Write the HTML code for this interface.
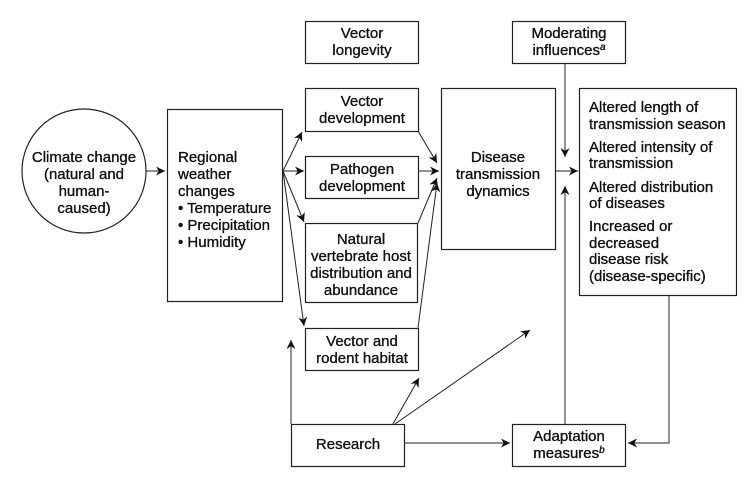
<!DOCTYPE html>
<html><head><meta charset="utf-8"><style>
html,body{margin:0;padding:0;background:#fff;}
svg{display:block;}
text{font-family:"Liberation Sans Narrow","Liberation Sans",sans-serif;font-size:15px;fill:#111;stroke:#111;stroke-width:0.35;}
.c{text-anchor:middle;}
</style></head><body>
<svg width="750" height="479" viewBox="0 0 750 479" xmlns="http://www.w3.org/2000/svg">
<defs><marker id="a" viewBox="0 0 10 10" refX="10" refY="5" markerWidth="9" markerHeight="9" markerUnits="userSpaceOnUse" orient="auto"><path d="M0,0 L10,5 L0,10 L3,5 z" fill="#111"/></marker></defs>
<g fill="none" stroke="#222" stroke-width="1.2">
<ellipse cx="84" cy="171" rx="62" ry="62"/>
<rect x="167.5" y="109.5" width="115" height="192"/>
<rect x="305.5" y="21.5" width="113" height="42"/>
<rect x="305.5" y="88.5" width="113" height="43"/>
<rect x="305.5" y="156.5" width="113" height="42"/>
<rect x="305.5" y="223.5" width="112" height="79"/>
<rect x="305.5" y="328.5" width="113" height="42"/>
<rect x="291.5" y="424.5" width="113" height="42"/>
<rect x="441.5" y="88.5" width="114" height="161"/>
<rect x="512.5" y="21.5" width="113" height="42"/>
<rect x="579.5" y="88.5" width="157" height="207"/>
<rect x="512.5" y="424.5" width="113" height="42"/>
</g>
<g fill="none" stroke="#222" stroke-width="1" marker-end="url(#a)">
<line x1="146" y1="171" x2="165" y2="171"/>
<line x1="283" y1="171" x2="302" y2="132"/>
<line x1="283" y1="171" x2="304" y2="171"/>
<line x1="283" y1="171" x2="304" y2="222"/>
<line x1="283" y1="171" x2="304" y2="326"/>
<line x1="418" y1="131" x2="437" y2="163"/>
<line x1="418" y1="171" x2="439" y2="171"/>
<line x1="418" y1="223" x2="437" y2="178"/>
<line x1="418" y1="328" x2="437" y2="183"/>
<line x1="555" y1="171" x2="578" y2="171"/>
<line x1="565" y1="63" x2="565" y2="157"/>
<line x1="565" y1="424" x2="565" y2="186"/>
<polyline points="669,295 669,443 628,443"/>
<line x1="404" y1="443" x2="510" y2="443"/>
<polyline points="291,424 291,340"/>
<line x1="393" y1="424" x2="419" y2="378"/>
<line x1="395" y1="424" x2="530" y2="330"/>
</g>
<text class="c" x="84" y="162">Climate change</text>
<text class="c" x="84" y="179">(natural and</text>
<text class="c" x="84" y="196">human-</text>
<text class="c" x="84" y="213">caused)</text>
<text x="178" y="162">Regional</text>
<text x="178" y="179">weather</text>
<text x="178" y="196">changes</text>
<text x="178" y="213">• Temperature</text>
<text x="178" y="230">• Precipitation</text>
<text x="178" y="247">• Humidity</text>
<text class="c" x="362" y="38">Vector</text>
<text class="c" x="362" y="55">longevity</text>
<text class="c" x="362" y="106">Vector</text>
<text class="c" x="362" y="123">development</text>
<text class="c" x="362" y="174">Pathogen</text>
<text class="c" x="362" y="191">development</text>
<text class="c" x="361" y="244">Natural</text>
<text class="c" x="361" y="261">vertebrate host</text>
<text class="c" x="361" y="278">distribution and</text>
<text class="c" x="361" y="295">abundance</text>
<text class="c" x="362" y="346">Vector and</text>
<text class="c" x="362" y="363">rodent habitat</text>
<text class="c" x="348" y="449">Research</text>
<text class="c" x="498" y="162">Disease</text>
<text class="c" x="498" y="179">transmission</text>
<text class="c" x="498" y="196">dynamics</text>
<text class="c" x="569" y="38">Moderating</text>
<text class="c" x="569" y="55">influences<tspan font-style="italic" font-size="10" dy="-5">a</tspan></text>
<text class="c" x="569" y="441">Adaptation</text>
<text class="c" x="569" y="458">measures<tspan font-style="italic" font-size="10" dy="-5">b</tspan></text>
<text x="589" y="112">Altered length of</text>
<text x="589" y="129">transmission season</text>
<text x="589" y="152">Altered intensity of</text>
<text x="589" y="168">transmission</text>
<text x="589" y="192">Altered distribution</text>
<text x="589" y="208">of diseases</text>
<text x="589" y="231">Increased or</text>
<text x="589" y="248">decreased</text>
<text x="589" y="264">disease risk</text>
<text x="589" y="281">(disease-specific)</text>
</svg>
</body></html>
